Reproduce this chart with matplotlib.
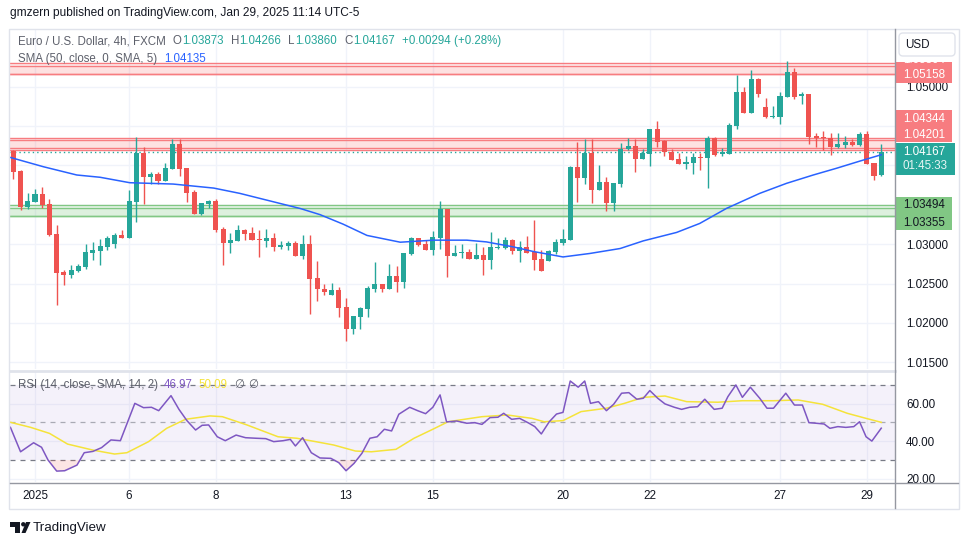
import matplotlib
matplotlib.use("Agg")
import matplotlib.pyplot as plt
from matplotlib.patches import Rectangle, FancyBboxPatch, Polygon, Circle
import numpy as np

plt.rcParams['font.family'] = ['Liberation Sans', 'DejaVu Sans']

W, H = 970, 545

# ---------------- data (EUR/USD 4h, FXCM) ----------------
opens = [1.04187, 1.03929, 1.03475, 1.03539, 1.03636, 1.03509, 1.03127, 1.02644, 1.02610, 1.02661,
         1.02712, 1.02890, 1.02915, 1.02966, 1.03004, 1.03115, 1.03081, 1.03539, 1.04162, 1.03857,
         1.03891, 1.03806, 1.03958, 1.04272, 1.03967, 1.03662, 1.03386, 1.03513, 1.03547, 1.03191,
         1.03017, 1.03042, 1.03178, 1.03140, 1.03064, 1.03042, 1.03076, 1.02966, 1.02979, 1.03013,
         1.02852, 1.03000, 1.02567, 1.02436, 1.02355, 1.02415, 1.02198, 1.01919, 1.02075, 1.02177,
         1.02432, 1.02491, 1.02432, 1.02593, 1.02521, 1.02877, 1.03076, 1.03000, 1.02928, 1.03081,
         1.03445, 1.02852, 1.02890, 1.02898, 1.02813, 1.02860, 1.02801, 1.02949, 1.02953, 1.03051,
         1.02915, 1.02962, 1.02898, 1.02809, 1.02788, 1.02902, 1.03013, 1.03055, 1.03984, 1.03844,
         1.04162, 1.03687, 1.03789, 1.03522, 1.03768, 1.04204, 1.04247, 1.04081, 1.04149, 1.04463,
         1.04315, 1.04171, 1.04081, 1.04022, 1.04031, 1.04107, 1.04098, 1.04349, 1.04145, 1.04145,
         1.04501, 1.04934, 1.04667, 1.05099, 1.04743, 1.04616, 1.04616, 1.04870, 1.05188, 1.04875,
         1.04908, 1.04374, 1.04361, 1.04349, 1.04234, 1.04260, 1.04298, 1.04260, 1.04400, 1.04031,
         1.03873]
highs = [1.04195, 1.03942, 1.03649, 1.03700, 1.03725, 1.03573, 1.03242, 1.02678, 1.02733, 1.02746,
         1.03000, 1.03025, 1.03064, 1.03102, 1.03140, 1.03178, 1.03687, 1.04366, 1.04238, 1.03916,
         1.03916, 1.04031, 1.04336, 1.04336, 1.03970, 1.03687, 1.03525, 1.03560, 1.03573, 1.03216,
         1.03140, 1.03242, 1.03191, 1.03216, 1.03178, 1.03191, 1.03140, 1.03038, 1.03038, 1.03038,
         1.03115, 1.03115, 1.02784, 1.02491, 1.02504, 1.02453, 1.02313, 1.02088, 1.02198, 1.02470,
         1.02771, 1.02495, 1.02746, 1.02720, 1.02890, 1.03089, 1.03080, 1.03051, 1.03165, 1.03547,
         1.03450, 1.02987, 1.03000, 1.02936, 1.03013, 1.02962, 1.03153, 1.03076, 1.03089, 1.03064,
         1.03038, 1.03102, 1.03305, 1.02924, 1.02924, 1.03064, 1.03191, 1.03992, 1.04298, 1.04336,
         1.04336, 1.04005, 1.03852, 1.03780, 1.04285, 1.04349, 1.04336, 1.04209, 1.04466, 1.04565,
         1.04323, 1.04209, 1.04158, 1.04120, 1.04158, 1.04162, 1.04378, 1.04361, 1.04221, 1.04539,
         1.05150, 1.04998, 1.05214, 1.05112, 1.04858, 1.04756, 1.04934, 1.05328, 1.05239, 1.04934,
         1.04912, 1.04412, 1.04438, 1.04412, 1.04412, 1.04374, 1.04336, 1.04425, 1.04438, 1.04035,
         1.04266]
lows = [1.03827, 1.03433, 1.03445, 1.03530, 1.03462, 1.03110, 1.02228, 1.02483, 1.02572, 1.02644,
        1.02686, 1.02801, 1.02737, 1.02928, 1.02953, 1.03076, 1.03076, 1.03284, 1.03513, 1.03763,
        1.03763, 1.03800, 1.03950, 1.03869, 1.03539, 1.03380, 1.03373, 1.03458, 1.03157, 1.02737,
        1.02890, 1.03040, 1.03055, 1.03050, 1.02839, 1.02966, 1.02915, 1.02941, 1.02928, 1.02848,
        1.02813, 1.02118, 1.02279, 1.02355, 1.02350, 1.02075, 1.01770, 1.01859, 1.01923, 1.02075,
        1.02394, 1.02394, 1.02428, 1.02394, 1.02444, 1.02869, 1.02979, 1.02925, 1.02864, 1.02941,
        1.02584, 1.02850, 1.02826, 1.02810, 1.02810, 1.02610, 1.02686, 1.02941, 1.02941, 1.02877,
        1.02775, 1.02886, 1.02673, 1.02658, 1.02785, 1.02877, 1.02992, 1.03050, 1.03539, 1.03760,
        1.03526, 1.03683, 1.03424, 1.03424, 1.03729, 1.04196, 1.03920, 1.04078, 1.03997, 1.04234,
        1.04120, 1.04070, 1.04020, 1.03958, 1.03895, 1.03946, 1.03717, 1.04120, 1.04120, 1.04140,
        1.04463, 1.04660, 1.04660, 1.04862, 1.04603, 1.04603, 1.04531, 1.04866, 1.04845, 1.04781,
        1.04272, 1.04234, 1.04196, 1.04132, 1.04221, 1.04221, 1.04251, 1.04247, 1.04020, 1.03819,
        1.03860]
closes = [1.03920, 1.03475, 1.03547, 1.03636, 1.03496, 1.03119, 1.02635, 1.02610, 1.02669, 1.02720,
          1.02898, 1.02924, 1.02975, 1.03081, 1.03115, 1.03081, 1.03547, 1.04162, 1.03857, 1.03891,
          1.03806, 1.03967, 1.04272, 1.03958, 1.03653, 1.03386, 1.03522, 1.03547, 1.03182, 1.03017,
          1.03051, 1.03178, 1.03131, 1.03055, 1.03055, 1.03076, 1.02966, 1.02987, 1.03013, 1.02852,
          1.03000, 1.02559, 1.02432, 1.02394, 1.02415, 1.02190, 1.01919, 1.02084, 1.02186, 1.02440,
          1.02491, 1.02432, 1.02593, 1.02521, 1.02885, 1.03076, 1.02992, 1.02928, 1.03089, 1.03445,
          1.02852, 1.02885, 1.02898, 1.02813, 1.02860, 1.02801, 1.02962, 1.02962, 1.03051, 1.02915,
          1.02962, 1.02890, 1.02801, 1.02661, 1.02911, 1.03025, 1.03064, 1.03980, 1.03844, 1.04162,
          1.03687, 1.03789, 1.03522, 1.03776, 1.04209, 1.04247, 1.04081, 1.04158, 1.04463, 1.04298,
          1.04166, 1.04073, 1.04022, 1.04043, 1.04107, 1.04098, 1.04349, 1.04132, 1.04171, 1.04514,
          1.04934, 1.04667, 1.05099, 1.04908, 1.04616, 1.04629, 1.04883, 1.05188, 1.04870, 1.04908,
          1.04361, 1.04353, 1.04353, 1.04234, 1.04272, 1.04298, 1.04260, 1.04400, 1.04022, 1.03869,
          1.04167]

sma_idx = [-0.5, 4.15, 8.77, 12, 16.1, 22.1, 27.7, 31.3, 35, 39.7, 42.4, 45.6, 48.9, 53.5, 58.1, 62.7,
           65.4, 69.1, 71.9, 76, 79.7, 83.9, 87.1, 91.7, 94.9, 98.6, 103.2, 106.9, 110.6, 113.8, 117.1, 120]
sma_val = [1.04103, 1.03983, 1.03878, 1.03849, 1.03780, 1.03763, 1.03712, 1.03645, 1.03560, 1.03452,
           1.03375, 1.03254, 1.03111, 1.03025, 1.03051, 1.03051, 1.03029, 1.02966, 1.02907, 1.02838,
           1.02882, 1.02945, 1.03042, 1.03149, 1.03263, 1.03454, 1.03645, 1.03772, 1.03878, 1.03963,
           1.04056, 1.04135]

rsi_idx = [-0.4, 1, 2.8, 3.9, 4.8, 6, 7.1, 8.8, 9.8, 11, 12.2, 13.5, 14.8, 16.8, 18, 19.1, 20.1, 21.8,
           22.9, 24, 25.2, 26.1, 27, 28.2, 29.3, 30.8, 32.1, 33.6, 34.9, 36, 37.3, 38.3, 39, 40, 41.2,
           42.4, 43.9, 45, 46, 47.1, 48.2, 49.3, 50.3, 51.3, 52.3, 53.3, 54.8, 55.9, 57, 58, 59, 59.9,
           61.3, 62.7, 63.8, 64.8, 65.9, 67, 67.8, 68.9, 70, 71.3, 72.1, 73, 74.1, 75.1, 76, 77, 78.1,
           79, 79.8, 80.9, 82, 83, 84.1, 85.1, 86.2, 87.1, 88, 89.1, 90.1, 91.4, 92.4, 93.5, 94.6, 95.6,
           96.9, 98, 98.8, 99.9, 100.8, 101.9, 103.2, 104.2, 105.1, 106.8, 108, 109.1, 110, 111, 112.1,
           112.9, 114, 115.1, 116.2, 117, 117.9, 118.7, 120]
rsi_val = [47.4, 34.4, 39.2, 36.8, 30, 24.1, 24.3, 27.3, 33.9, 34.6, 36.6, 40.7, 40.3, 60.2, 57.9, 58.1,
           56.3, 64.3, 57.0, 51, 46, 48.5, 48.7, 42.4, 40.3, 43.3, 41.9, 41.6, 41.4, 39.8, 40.3, 41, 37.5,
           41.9, 33.9, 31.1, 30.9, 28.6, 24.3, 28.2, 33.6, 41.6, 42.4, 46.4, 45.5, 54.4, 58.1, 56.3, 54.7,
           58.1, 64.7, 50.3, 50.8, 49.6, 49.9, 49, 52.6, 52.8, 54.9, 51.7, 52.2, 49.6, 47.8, 43.9, 50.4,
           54.5, 55.4, 72.1, 68.8, 72.1, 60.2, 61.1, 56.3, 59.7, 65.6, 65.9, 62.4, 62.9, 67, 62.9, 59.9,
           58.1, 57, 58.1, 58.4, 62.4, 57, 57.6, 63.8, 70, 63.4, 68.8, 62.9, 57.6, 57.6, 65.6, 59.3, 59.3,
           49.9, 49.6, 49.2, 46.9, 47.8, 47.4, 47.8, 50.4, 42.4, 40.1, 46.97]
rsi_ma_idx = [-0.4, 2.4, 5, 7.5, 11, 14, 15.7, 18.7, 21.2, 23.8, 27.2, 28.9, 32.3, 36.6, 39.2, 41.8,
              44.3, 47.3, 49.5, 52.9, 55.4, 58, 60.1, 64.8, 68.3, 71.7, 73.4, 76, 78.5, 82, 84.5, 87.1,
              90.1, 93.1, 97.4, 100.8, 105.1, 108.5, 111.9, 115.3, 117.9, 120]
rsi_ma_val = [50.1, 47.4, 44.2, 38.5, 35.3, 33.2, 33.9, 39.8, 46.9, 51.7, 53.5, 53.1, 48.7, 42.4, 41.6,
              39.8, 38, 34.8, 34.4, 35.7, 41.6, 46.4, 50.4, 53.1, 54, 52.2, 50.4, 51, 55.8, 57.6, 60.2,
              63.4, 64.1, 61.1, 60.8, 61.6, 61.6, 62, 59.7, 54.9, 52.2, 50.09]

date_pos = [3, 16, 28, 46, 58, 76, 88, 106, 118]
date_labels = ["2025", "6", "8", "13", "15", "20", "22", "27", "29"]
price_ticks = [1.015, 1.020, 1.025, 1.030, 1.035, 1.040, 1.045, 1.050]
price_ticks_shown = [1.015, 1.020, 1.025, 1.030, 1.050]   # others hidden under price labels
rsi_ticks = [20, 40, 60]

red_zones = [(1.05158, 1.05300), (1.05158, 1.05265), (1.04201, 1.04318), (1.04222, 1.04344)]
green_zones = [(1.03355, 1.03494), (1.03355, 1.03454)]
last_price = 1.04167

UP, DN = '#26a69a', '#ef5350'
GRID = '#f0f3fa'
TXT = '#131722'
GRAY = '#5d606b'

# ---------------- figure ----------------
fig = plt.figure(figsize=(W / 100, H / 100), dpi=100)
fig.patch.set_facecolor('white')


def rect(x0, y0, x1, y1):
    return [x0 / W, 1 - y1 / H, (x1 - x0) / W, (y1 - y0) / H]


ax_p = fig.add_axes(rect(10, 30, 895, 369))
ax_r = fig.add_axes(rect(10, 372, 895, 482), sharex=ax_p)
for a in (ax_p, ax_r):
    for s in a.spines.values():
        s.set_visible(False)
    a.set_facecolor('white')

n = len(opens)
x = np.arange(n)
ax_p.set_xlim(-0.46, 121.9)
ax_p.set_ylim(1.01416, 1.05718)

# grid
for t in price_ticks:
    ax_p.axhline(t, color=GRID, lw=1, zorder=0)
for d in date_pos:
    ax_p.axvline(d, color=GRID, lw=1, zorder=0)
    ax_r.axvline(d, color=GRID, lw=1, zorder=0)
for t in rsi_ticks:
    ax_r.axhline(t, color=GRID, lw=1, zorder=0)

# zones
for lo, hi in red_zones:
    ax_p.axhspan(lo, hi, color='#f77c80', alpha=0.12, lw=0, zorder=1)
    ax_p.axhline(lo, color='#f77c80', lw=1, zorder=1.5)
    ax_p.axhline(hi, color='#f77c80', lw=1, zorder=1.5)
for lo, hi in green_zones:
    ax_p.axhspan(lo, hi, color='#81c784', alpha=0.14, lw=0, zorder=1)
    ax_p.axhline(lo, color='#81c784', lw=1, zorder=1.5)
    ax_p.axhline(hi, color='#81c784', lw=1, zorder=1.5)

# candles
o = np.array(opens); c = np.array(closes)
cols = [UP if cc >= oo else DN for oo, cc in zip(o, c)]
ax_p.vlines(x, lows, highs, colors=cols, lw=1, zorder=3)
bottoms = np.minimum(o, c)
heights = np.maximum(np.abs(c - o), 0.00013)
ax_p.bar(x, heights, bottom=bottoms, width=0.7, color=cols, lw=0, zorder=4)

# SMA
ax_p.plot(sma_idx, sma_val, color='#2962ff', lw=1.1, zorder=5)

# last price dotted line
ax_p.axhline(last_price, color=UP, lw=1, ls=(0, (1, 2.2)), zorder=2)

# price scale
ax_p.yaxis.tick_right()
ax_p.set_yticks(price_ticks_shown)
ax_p.set_yticklabels([f"{t:.5f}" for t in price_ticks_shown])
ax_p.tick_params(axis='y', length=0, pad=8, labelsize=8.4, labelcolor=TXT)
ax_p.tick_params(axis='x', bottom=False, labelbottom=False)

# RSI
ax_r.set_ylim(18.3, 76.9)
ax_r.axhspan(30, 70, color='#7e57c2', alpha=0.08, lw=0, zorder=0.5)
ax_r.axhline(70, color='#787b86', lw=0.9, ls=(0, (4, 4)), zorder=1)
ax_r.axhline(50, color='#787b86', lw=0.9, ls=(0, (4, 4)), alpha=0.6, zorder=1)
ax_r.axhline(30, color='#787b86', lw=0.9, ls=(0, (4, 4)), zorder=1)
rv = np.array(rsi_val)
ax_r.fill_between(rsi_idx, rv, 30, where=rv < 30, interpolate=True, color='#ef5350', alpha=0.15, lw=0)
ax_r.plot(rsi_ma_idx, rsi_ma_val, color='#f5e33a', lw=1.1, zorder=3)
ax_r.plot(rsi_idx, rsi_val, color='#7e57c2', lw=1.1, zorder=4)
ax_r.yaxis.tick_right()
ax_r.set_yticks(rsi_ticks)
ax_r.set_yticklabels([f"{t:.2f}" for t in rsi_ticks])
ax_r.tick_params(axis='y', length=0, pad=8, labelsize=8.4, labelcolor=TXT)
ax_r.set_xticks(date_pos)
ax_r.set_xticklabels(date_labels)
ax_r.tick_params(axis='x', length=0, pad=6, labelsize=8.4, labelcolor=TXT)

# ---------------- overlay (pixel coords) ----------------
ov = fig.add_axes([0, 0, 1, 1], zorder=10)
ov.set_xlim(0, W); ov.set_ylim(H, 0); ov.axis('off')
ov.patch.set_visible(False)

# hide the lower part of the cut "20.00" label below the time-scale border
ov.add_patch(Rectangle((896, 483.5), 62, 24, fc='white', ec='none'))

# borders / separators
ov.add_patch(Rectangle((9.5, 28.5), 950, 480, fill=False, ec='#e0e3eb', lw=1))
ov.plot([10, 895], [370.5, 370.5], color='#e0e3eb', lw=2)
ov.plot([10, 958], [483, 483], color='#9598a1', lw=1)
ov.plot([895, 895], [29, 508], color='#9598a1', lw=1)


# price labels on scale
def box(y0, y1, color, w=57):
    ov.add_patch(Rectangle((895.5, y0), w, y1 - y0, fc=color, ec='none'))


box(61.7, 83.3, '#f77c80')
t_hidden = ov.text(903, 60, "1.05304", color='white', fontsize=8.4, va='center')
clip = Rectangle((895, 57), 60, 30, transform=ov.transData)
t_hidden.set_clip_path(clip)
ov.text(903, 75, "1.05158", color='white', fontsize=8.4, va='center')
box(110, 141.7, '#f77c80')
ov.text(903, 118.5, "1.04344", color='white', fontsize=8.4, va='center')
ov.text(903, 135, "1.04201", color='white', fontsize=8.4, va='center')
box(143.3, 174.5, UP, w=60)
ov.text(903, 151.7, "1.04167", color='white', fontsize=8.4, va='center')
ov.text(903, 166, "01:45:33", color='#e6f5f3', fontsize=8.4, va='center')
box(196.7, 230, '#81c784')
ov.text(903, 205, "1.03494", color=TXT, fontsize=8.4, va='center')
ov.text(903, 222.5, "1.03355", color=TXT, fontsize=8.4, va='center')

# USD button
ov.add_patch(FancyBboxPatch((899, 33), 56, 23, boxstyle="round,pad=0,rounding_size=4",
                            fc='white', ec='#e0e3eb', lw=1, zorder=5))
ov.text(917, 45, "USD", color=TXT, fontsize=8.4, ha='center', va='center', zorder=6)

# rich text helper
renderer = fig.canvas.get_renderer()


def rich(x0, y, parts, size=8.3):
    xx = x0
    for s, col, gap in parts:
        t = ov.text(xx, y, s, color=col, fontsize=size, va='center', ha='left')
        bb = t.get_window_extent(renderer=renderer)
        xx += bb.width + gap


ov.text(10, 13, "gmzern published on TradingView.com, Jan 29, 2025 11:14 UTC-5",
        color=TXT, fontsize=8.6, va='center')
rich(18, 41, [("Euro / U.S. Dollar, 4h, FXCM", GRAY, 7),
              ("O", GRAY, 0.5), ("1.03873", UP, 7),
              ("H", GRAY, 0.5), ("1.04266", UP, 7),
              ("L", GRAY, 0.5), ("1.03860", UP, 7),
              ("C", GRAY, 0.5), ("1.04167", UP, 7),
              ("+0.00294 (+0.28%)", UP, 0)])
rich(18, 59, [("SMA (50, close, 0, SMA, 5)", GRAY, 7), ("1.04135", '#2962ff', 0)])
rich(18, 385, [("RSI (14, close, SMA, 14, 2)", GRAY, 6), ("46.97", '#7e57c2', 6),
               ("50.09", '#f5e33a', 6), ("\u2205", GRAY, 4), ("\u2205", GRAY, 0)])

# TradingView logo
ov.add_patch(Polygon([(10, 522), (20.5, 522), (20.5, 533), (15.5, 533), (15.5, 526.5), (10, 526.5)],
                     closed=True, fc=TXT, ec='none'))
ov.add_patch(Circle((23.3, 524.3), 2.2, fc=TXT, ec='none'))
ov.add_patch(Polygon([(26, 522), (30.5, 522), (25.5, 533), (21.5, 533)], closed=True, fc=TXT, ec='none'))
ov.text(33, 527.5, "TradingView", color=TXT, fontsize=9.6, va='center')

fig.savefig("out.png", dpi=100, facecolor='white')
